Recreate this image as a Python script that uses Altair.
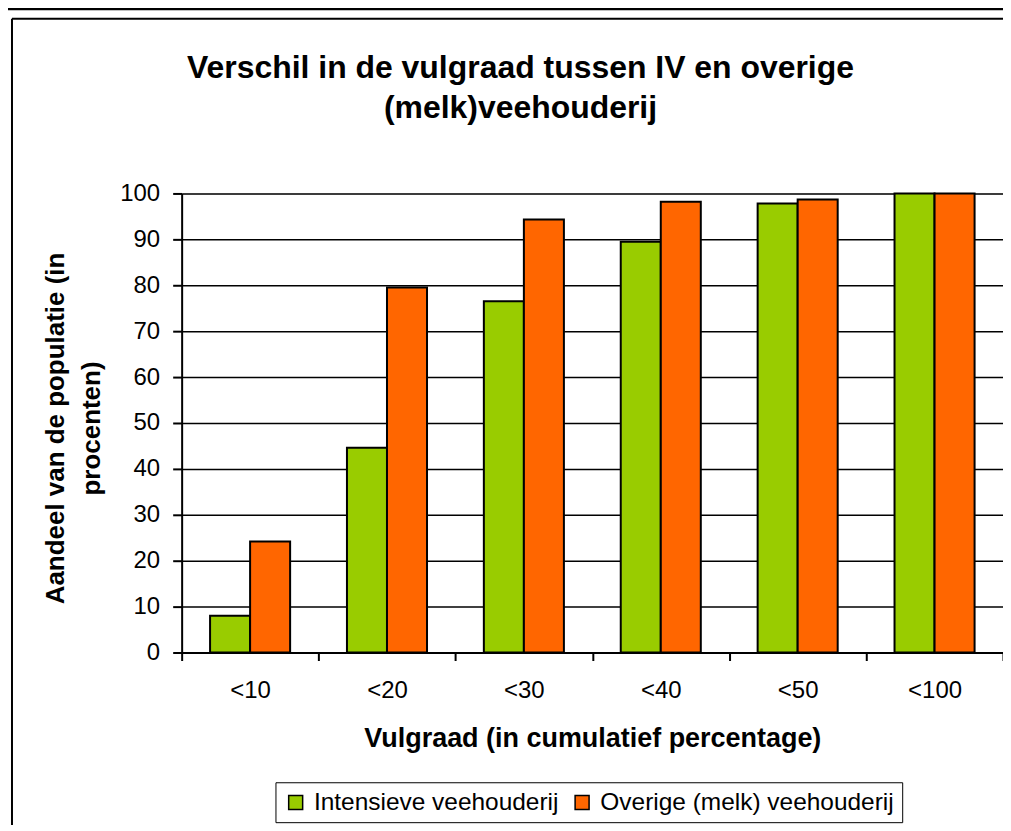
import altair as alt
import pandas as pd

categories = ["<10", "<20", "<30", "<40", "<50", "<100"]
intensieve = [8.0, 44.6, 76.5, 89.5, 97.8, 100.0]
overige = [24.2, 79.5, 94.3, 98.2, 98.7, 100.0]
series = ["Intensieve veehouderij", "Overige (melk) veehouderij"]
colors = ["#99CC00", "#FF6600"]

rows = []
for c, a, b in zip(categories, intensieve, overige):
    rows.append({"cat": c, "serie": series[0], "val": a})
    rows.append({"cat": c, "serie": series[1], "val": b})
df = pd.DataFrame(rows)

FONT = "Liberation Sans"

bars = alt.Chart(df).mark_bar(stroke="black", strokeWidth=2, clip=False).encode(
    x=alt.X("cat:N", sort=categories,
            scale=alt.Scale(paddingInner=0, paddingOuter=0),
            axis=alt.Axis(title="Vulgraad (in cumulatief percentage)", labelAngle=0,
                          tickBand="extent", tickSize=8, tickColor="black", tickWidth=2,
                          domainColor="black", domainWidth=2, grid=False,
                          labelFontSize=24, labelFont=FONT, labelColor="black",
                          labelPadding=18, titleFontSize=27, titleFont=FONT,
                          titleFontWeight="bold", titleColor="black", titlePadding=23)),
    xOffset=alt.XOffset("serie:N", sort=series,
                        scale=alt.Scale(paddingOuter=0.71, paddingInner=0)),
    y=alt.Y("val:Q", scale=alt.Scale(domain=[0, 100]),
            axis=alt.Axis(title=["Aandeel van de populatie (in", "procenten)"],
                          values=list(range(0, 101, 10)), tickSize=9, tickColor="black",
                          tickWidth=2, domainColor="black", domainWidth=2,
                          gridColor="black", gridWidth=1.5,
                          labelFontSize=24, labelFont=FONT, labelColor="black",
                          labelPadding=13, titleFontSize=26, titleFont=FONT,
                          titleFontWeight="bold", titleColor="black",
                          titleAngle=270, titleX=-139, titleY=235,
                          titleAlign="center", titleBaseline="top",
                          titleLineHeight=36)),
    color=alt.Color("serie:N", sort=series,
                    scale=alt.Scale(domain=series, range=colors),
                    legend=alt.Legend(title=None, orient="none", legendX=94, legendY=590,
                                      direction="horizontal", strokeColor="black",
                                      padding=8, symbolType="square", symbolSize=196,
                                      symbolStrokeColor="black", symbolStrokeWidth=1.5,
                                      labelFontSize=24.5, labelFont=FONT, labelLimit=500,
                                      labelColor="black", columnPadding=11,
                                      labelOffset=6, fillColor="white")),
)

frame_df = pd.DataFrame({"k": [0]})
top_line = alt.Chart(frame_df).mark_rule(color="black", strokeWidth=3, clip=False).encode(
    x=alt.value(-179), x2=alt.value(823), y=alt.value(-185))
frame_top = alt.Chart(frame_df).mark_rule(color="black", strokeWidth=2, clip=False).encode(
    x=alt.value(-170), x2=alt.value(830), y=alt.value(-175))
frame_left = alt.Chart(frame_df).mark_rule(color="black", strokeWidth=2, clip=False).encode(
    x=alt.value(-170), y=alt.value(-175), y2=alt.value(640))

chart = alt.layer(bars, top_line, frame_top, frame_left).properties(
    width=823, height=460,
    title=alt.TitleParams(
        text=["Verschil in de vulgraad tussen IV en overige", "(melk)veehouderij"],
        fontSize=32, font=FONT, fontWeight="bold", color="black",
        anchor="middle", frame="group", dx=-72, offset=-118, lineHeight=40),
    autosize=alt.AutoSizeParams(type="none"),
    padding={"left": 174, "top": 185, "right": 0, "bottom": 172},
).configure_view(stroke="#808080", strokeWidth=2).configure(background="white")

chart.save("out.html", embed_options={"renderer": "svg", "actions": False})
